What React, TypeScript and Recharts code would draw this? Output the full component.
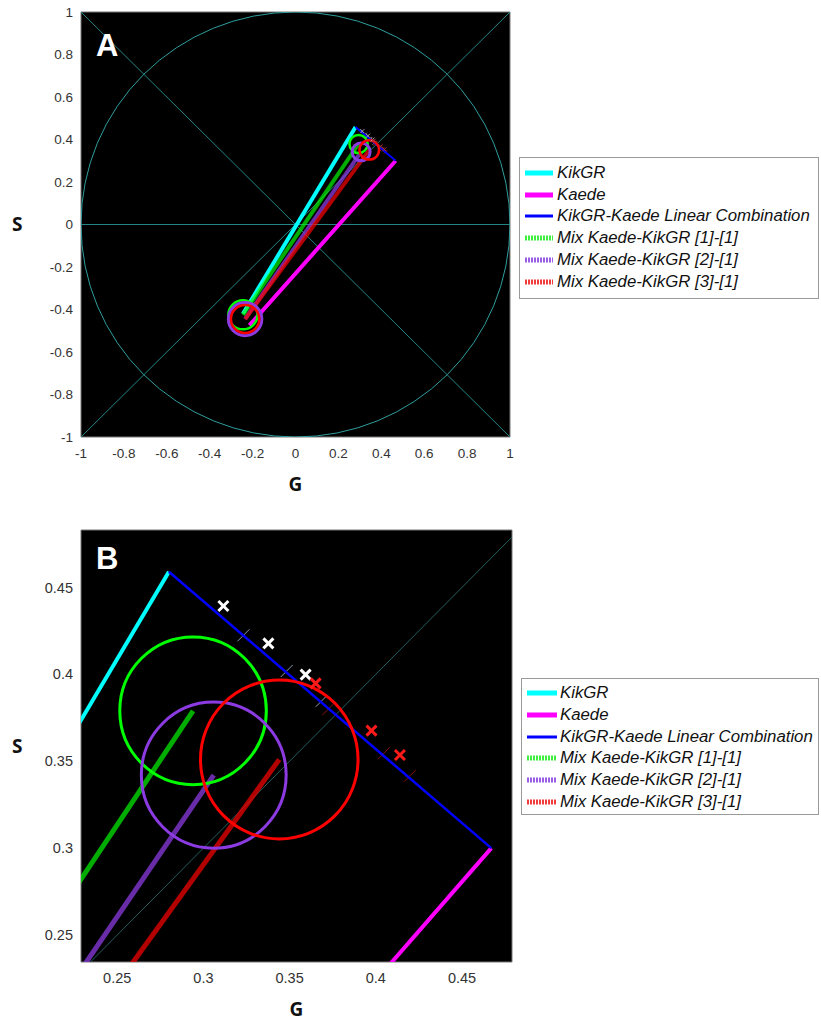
import React from 'react';
import { ScatterChart, Scatter, XAxis, YAxis, CartesianGrid, ReferenceArea } from 'recharts';

type Pt = { g: number; s: number };
type Ring = { g: number; s: number; r: number };

// axis ticks
const ticksA = [-1, -0.8, -0.6, -0.4, -0.2, 0, 0.2, 0.4, 0.6, 0.8, 1];
const ticksB = [0.25, 0.3, 0.35, 0.4, 0.45];

// phasor reference guides
const diagUp: Pt[] = [{ g: -1, s: -1 }, { g: 1, s: 1 }];
const diagDown: Pt[] = [{ g: -1, s: 1 }, { g: 1, s: -1 }];
const zeroLine: Pt[] = [{ g: -1, s: 0 }, { g: 1, s: 0 }];
const unitCircle: Ring[] = [{ g: 0, s: 0, r: 1 }];

// pure protein trajectories
const kikgr: Pt[] = [{ g: -0.245, s: -0.42 }, { g: 0.28, s: 0.459 }];
const kaede: Pt[] = [{ g: -0.215, s: -0.475 }, { g: 0.467, s: 0.3 }];
const linearCombo: Pt[] = [{ g: 0.28, s: 0.459 }, { g: 0.467, s: 0.3 }];

// mixtures
const mix11: Pt[] = [{ g: -0.245, s: -0.425 }, { g: 0.294, s: 0.379 }];
const mix21: Pt[] = [{ g: -0.235, s: -0.445 }, { g: 0.306, s: 0.342 }];
const mix31: Pt[] = [{ g: -0.235, s: -0.445 }, { g: 0.344, s: 0.351 }];
const mix11Spread: Ring[] = [{ g: -0.245, s: -0.425, r: 0.068 }, { g: 0.294, s: 0.379, r: 0.0425 }];
const mix21Spread: Ring[] = [{ g: -0.235, s: -0.445, r: 0.078 }, { g: 0.306, s: 0.342, r: 0.042 }];
const mix31Spread: Ring[] = [{ g: -0.235, s: -0.445, r: 0.066 }, { g: 0.344, s: 0.351, r: 0.0457 }];

// projections onto the KikGR-Kaede combination line
const comboMarks: Pt[] = [{ g: 0.3232, s: 0.4224 }, { g: 0.3483, s: 0.4019 }, { g: 0.3686, s: 0.3847 }];
const comboMarksRed: Pt[] = [{ g: 0.3724, s: 0.3799 }, { g: 0.4047, s: 0.3546 }, { g: 0.4198, s: 0.3416 }];
const measured: Pt[] = [{ g: 0.3116, s: 0.4393 }, { g: 0.3377, s: 0.4178 }, { g: 0.3593, s: 0.3998 }];
const measuredRed: Pt[] = [{ g: 0.3651, s: 0.3948 }, { g: 0.3975, s: 0.3676 }, { g: 0.414, s: 0.3536 }];

const CYAN = '#00ffff';
const MAGENTA = '#ff00ff';
const BLUE = '#0000ff';
const GREEN = '#00ff00';
const PURPLE = '#8c3be2';
const RED = '#ff0000';

const legendItems = [
  { name: 'KikGR', color: CYAN, width: 5, dash: undefined as string | undefined },
  { name: 'Kaede', color: MAGENTA, width: 5, dash: undefined },
  { name: 'KikGR-Kaede Linear Combination', color: BLUE, width: 3, dash: undefined },
  { name: 'Mix Kaede-KikGR [1]-[1]', color: '#3ef03e', width: 5, dash: '2 1' },
  { name: 'Mix Kaede-KikGR [2]-[1]', color: '#9a5ee6', width: 5, dash: '2 1' },
  { name: 'Mix Kaede-KikGR [3]-[1]', color: '#f23c3c', width: 5, dash: '2 1' },
];

const Empty = () => <g />;

const ringShape = (color: string, width: number, kx: number, ky: number) => (p: any) => (
  <ellipse cx={p.cx} cy={p.cy} rx={p.payload.r * kx} ry={p.payload.r * ky} fill="none" stroke={color} strokeWidth={width} />
);

const crossShape = (color: string, half: number, width: number) => (p: any) => (
  <g stroke={color} strokeWidth={width}>
    <line x1={p.cx - half} y1={p.cy - half} x2={p.cx + half} y2={p.cy + half} />
    <line x1={p.cx - half} y1={p.cy + half} x2={p.cx + half} y2={p.cy - half} />
  </g>
);

// short stroke across the combination line
const notchShape = (color: string, half: number, width: number) => (p: any) => (
  <line x1={p.cx - half} y1={p.cy + half} x2={p.cx + half} y2={p.cy - half} stroke={color} strokeWidth={width} />
);

interface PanelProps {
  gDomain: [number, number];
  sDomain: [number, number];
  ticks: number[];
  plotW: number;
  plotH: number;
  chartW: number;
  chartH: number;
  marginTop: number;
  marginRight: number;
  marginBottom: number;
  tickFont: number;
  full: boolean;
}

function Panel(props: PanelProps) {
  const { gDomain, sDomain, ticks, plotW, plotH, full } = props;
  const kx = plotW / (gDomain[1] - gDomain[0]);
  const ky = plotH / (sDomain[1] - sDomain[0]);
  const guide = full ? '#238585' : '#235d5d';
  const tick = { fontSize: props.tickFont, fill: '#333', fontFamily: 'Liberation Sans, Arial, sans-serif' };
  const fmt = (v: number) => String(Math.round(v * 100) / 100);
  const titleStyle = { fontSize: 19, fontWeight: 700, fill: '#111', fontFamily: 'Open Sans, sans-serif' };
  const markHalf = full ? 2 : 5;
  const tickHalf = full ? 2 : 6;

  return (
    <ScatterChart
      width={props.chartW}
      height={props.chartH}
      margin={{ top: props.marginTop, right: props.marginRight, bottom: props.marginBottom, left: 0 }}
    >
      <CartesianGrid fill="#000" horizontal={false} vertical={false} />
      <XAxis
        type="number"
        dataKey="g"
        domain={gDomain}
        allowDataOverflow
        ticks={ticks}
        tickFormatter={fmt}
        tick={tick}
        tickLine={false}
        tickSize={0}
        tickMargin={11}
        axisLine={false}
        height={30}
        label={{ value: 'G', position: 'bottom', offset: 11, style: titleStyle }}
      />
      <YAxis
        type="number"
        dataKey="s"
        domain={sDomain}
        allowDataOverflow
        ticks={ticks}
        tickFormatter={fmt}
        tick={tick}
        tickLine={false}
        tickSize={0}
        tickMargin={8}
        axisLine={false}
        width={81}
        label={{ value: 'S', position: 'insideLeft', offset: 12, angle: 0, style: titleStyle }}
      />
      <Scatter data={diagUp} shape={Empty} line={{ stroke: guide, strokeWidth: 1 }} isAnimationActive={false} />
      {full && <Scatter data={diagDown} shape={Empty} line={{ stroke: guide, strokeWidth: 1 }} isAnimationActive={false} />}
      {full && <Scatter data={zeroLine} shape={Empty} line={{ stroke: guide, strokeWidth: 1 }} isAnimationActive={false} />}
      {full && <Scatter data={unitCircle} shape={ringShape('#2f9e9e', 1, kx, ky)} isAnimationActive={false} />}

      <Scatter data={kikgr} shape={Empty} line={{ stroke: CYAN, strokeWidth: 4 }} isAnimationActive={false} />
      <Scatter data={kaede} shape={Empty} line={{ stroke: MAGENTA, strokeWidth: 4 }} isAnimationActive={false} />
      <Scatter data={mix11} shape={Empty} line={{ stroke: GREEN, strokeOpacity: 0.68, strokeWidth: full ? 4 : 5 }} isAnimationActive={false} />
      <Scatter data={mix21} shape={Empty} line={{ stroke: PURPLE, strokeOpacity: 0.75, strokeWidth: full ? 4 : 5 }} isAnimationActive={false} />
      <Scatter data={mix31} shape={Empty} line={{ stroke: RED, strokeOpacity: 0.7, strokeWidth: full ? 4 : 5 }} isAnimationActive={false} />

      <Scatter data={comboMarks} shape={notchShape('#8c9cb4', tickHalf, 1)} isAnimationActive={false} />
      <Scatter data={comboMarksRed} shape={notchShape('#8b1010', tickHalf, 1)} isAnimationActive={false} />
      <Scatter data={linearCombo} shape={Empty} line={{ stroke: BLUE, strokeWidth: full ? 2 : 2.5 }} isAnimationActive={false} />

      <Scatter data={mix11Spread} shape={ringShape(GREEN, full ? 2.5 : 3, kx, ky)} isAnimationActive={false} />
      <Scatter data={mix21Spread} shape={ringShape(PURPLE, 3, kx, ky)} isAnimationActive={false} />
      <Scatter data={mix31Spread} shape={ringShape(RED, full ? 2.5 : 3, kx, ky)} isAnimationActive={false} />

      <Scatter data={measured} shape={crossShape(full ? '#aaaaaa' : '#ffffff', markHalf, full ? 1 : 3)} isAnimationActive={false} />
      <Scatter data={measuredRed} shape={crossShape(full ? '#aa3333' : '#ff1a1a', markHalf, full ? 1 : 3)} isAnimationActive={false} />

      <ReferenceArea x1={gDomain[0]} x2={gDomain[1]} y1={sDomain[0]} y2={sDomain[1]} fill="none" stroke="#777" strokeWidth={1} />
    </ScatterChart>
  );
}

function LegendBox({ left, top, width, height, step, first, sampleW, textX }: {
  left: number; top: number; width: number; height: number; step: number; first: number; sampleW: number; textX: number;
}) {
  return (
    <div
      style={{
        position: 'absolute', left, top, width, height, boxSizing: 'border-box',
        border: '1px solid #9a9a9a', background: '#fff',
      }}
    >
      {legendItems.map((it, i) => {
        const cy = first + i * step;
        return (
          <div key={it.name} style={{ position: 'absolute', left: 0, top: cy - 10, height: 20, width: width - 2 }}>
            <svg width={sampleW + 8} height={20} style={{ position: 'absolute', left: 0, top: 0 }}>
              <line x1={5} y1={10} x2={5 + sampleW} y2={10} stroke={it.color} strokeWidth={it.width} strokeDasharray={it.dash} />
            </svg>
            <span
              style={{
                position: 'absolute', left: textX, top: 0, lineHeight: '20px', fontSize: 16.8,
                fontStyle: 'italic', fontFamily: 'Liberation Sans, Arial, sans-serif', color: '#111', whiteSpace: 'nowrap',
              }}
            >
              {it.name}
            </span>
          </div>
        );
      })}
    </div>
  );
}

const letterStyle: React.CSSProperties = {
  position: 'absolute', color: '#fff', fontWeight: 700, fontSize: 31,
  fontFamily: 'Liberation Sans, Arial, sans-serif', lineHeight: 1,
};

export default function App() {
  return (
    <div style={{ position: 'absolute', left: 0, top: 0, width: 821, height: 1023, background: '#fff', overflow: 'hidden' }}>
      <div style={{ position: 'absolute', left: 0, top: 0 }}>
        <Panel
          gDomain={[-1, 1]}
          sDomain={[-1, 1]}
          ticks={ticksA}
          plotW={429}
          plotH={425}
          chartW={821}
          chartH={505}
          marginTop={12}
          marginRight={311}
          marginBottom={38}
          tickFont={13.5}
          full
        />
      </div>
      <div style={{ ...letterStyle, left: 96, top: 30 }}>A</div>
      <LegendBox left={519} top={157} width={300} height={142} step={21.7} first={15} sampleW={28} textX={37} />

      <div style={{ position: 'absolute', left: 0, top: 518 }}>
        <Panel
          gDomain={[0.229, 0.479]}
          sDomain={[0.2345, 0.483]}
          ticks={ticksB}
          plotW={431}
          plotH={432}
          chartW={821}
          chartH={505}
          marginTop={12}
          marginRight={309}
          marginBottom={31}
          tickFont={14.5}
          full={false}
        />
      </div>
      <div style={{ ...letterStyle, left: 96, top: 543 }}>B</div>
      <LegendBox left={521} top={678} width={298} height={137} step={21.8} first={14} sampleW={30} textX={38} />
    </div>
  );
}
